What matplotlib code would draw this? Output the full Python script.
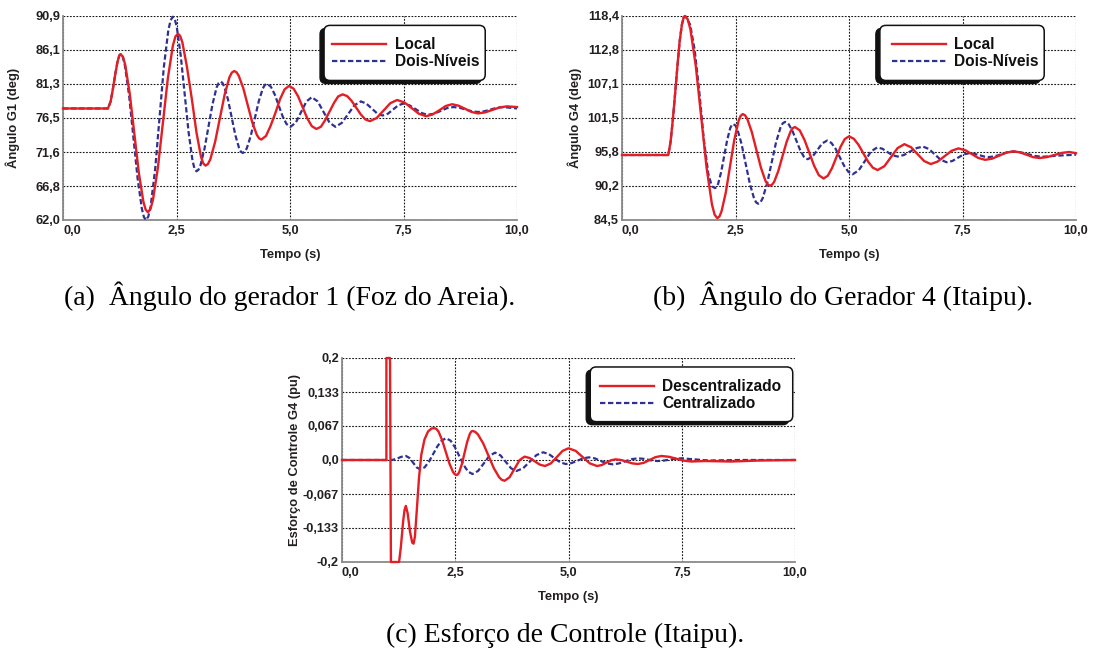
import matplotlib
matplotlib.use("Agg")
import matplotlib.pyplot as plt
from matplotlib.patches import FancyBboxPatch

# ---------------- data ----------------
x_ticks = [0.0, 2.5, 5.0, 7.5, 10.0]
x_tick_labels = ["0,0", "2,5", "5,0", "7,5", "10,0"]

# (a) generator 1 angle
a_yticks = [62.0, 66.8, 71.6, 76.5, 81.3, 86.1, 90.9]
a_ytick_labels = ["62,0", "66,8", "71,6", "76,5", "81,3", "86,1", "90,9"]
a_local_t = [0.0, 0.99, 1.05, 1.1, 1.15, 1.2, 1.24, 1.27, 1.32, 1.37, 1.47, 1.57, 1.67, 1.77, 1.82, 1.87,
             1.925, 1.98, 2.09, 2.20, 2.31, 2.42, 2.475, 2.53, 2.581, 2.63, 2.73, 2.84, 2.94, 3.04, 3.089, 3.14,
             3.1925, 3.245, 3.35, 3.455, 3.56, 3.665, 3.7175, 3.77, 3.82, 3.87, 3.97, 4.07, 4.17, 4.27, 4.32, 4.37,
             4.47, 4.57, 4.68, 4.78, 4.88, 4.98, 5.08, 5.18, 5.28, 5.38, 5.48, 5.58,
             5.68, 5.77, 5.87, 5.97, 6.06, 6.16, 6.26, 6.36, 6.46, 6.56, 6.66, 6.76,
             6.91, 7.06, 7.21, 7.36, 7.52, 7.68, 7.84, 8.0, 8.14, 8.29, 8.43, 8.57,
             8.71, 8.86, 9.0, 9.14, 9.3, 9.46, 9.62, 9.78, 10.0]
a_local_v = [77.8, 77.8, 78.8, 80.6, 82.6, 84.4, 85.3, 85.5, 85.12, 84.0, 79.9, 74.3, 68.7, 64.6, 63.48, 63.1,
             63.53, 64.8, 69.4, 75.75, 82.1, 86.7, 87.97, 88.4, 88.08, 87.15, 83.7, 79.05, 74.4, 70.95, 70.02, 69.7,
             69.93, 70.6, 73.05, 76.4, 79.75, 82.2, 82.87, 83.1, 82.94, 82.45, 80.7, 78.25, 75.8, 74.05, 73.56, 73.4,
             73.9, 75.3, 77.2, 79.1, 80.5, 81.0, 80.6, 79.5, 77.95, 76.4, 75.3, 74.9,
             75.2, 76.1, 77.35, 78.6, 79.5, 79.8, 79.55, 78.85, 77.9, 76.95, 76.25, 76.0,
             76.45, 77.5, 78.55, 79.0, 78.65, 77.85, 77.05, 76.7, 76.95, 77.55, 78.15, 78.4,
             78.2, 77.75, 77.3, 77.1, 77.25, 77.6, 77.95, 78.1, 78.0]
a_dois_t = [0.0, 0.99, 1.05, 1.1, 1.15, 1.2, 1.24, 1.27, 1.317, 1.363, 1.457, 1.55, 1.643, 1.737, 1.783, 1.83,
            1.879, 1.93, 2.03, 2.125, 2.22, 2.32, 2.371, 2.42, 2.463, 2.507, 2.593, 2.68, 2.767, 2.853, 2.897, 2.94,
            2.984, 3.028, 3.117, 3.205, 3.293, 3.382, 3.426, 3.47, 3.511, 3.552, 3.633, 3.715, 3.797, 3.878, 3.919, 3.96,
            4.004, 4.048, 4.137, 4.225, 4.313, 4.402, 4.446, 4.49, 4.577, 4.663, 4.75, 4.837, 4.923, 5.01,
            5.128, 5.245, 5.363, 5.48, 5.61, 5.74, 5.87, 6.0, 6.14, 6.28, 6.42, 6.56,
            6.68, 6.8, 6.92, 7.04, 7.155, 7.27, 7.385, 7.5, 7.63, 7.77, 7.9, 8.03,
            8.17, 8.32, 8.46, 8.6, 8.735, 8.87, 9.005, 9.14, 9.28, 9.42, 9.56, 9.7, 10.0]
a_dois_v = [77.8, 77.8, 78.8, 80.6, 82.6, 84.4, 85.3, 85.5, 85.1, 83.9, 79.6, 73.75, 67.9, 63.6, 62.4, 62.0,
            62.49, 63.9, 69.2, 76.4, 83.6, 88.9, 90.31, 90.8, 90.43, 89.3, 85.3, 79.85, 74.4, 70.4, 69.27, 68.9,
            69.12, 69.75, 72.1, 75.25, 78.4, 80.75, 81.38, 81.6, 81.43, 80.9, 79.1, 76.55, 74.0, 72.2, 71.67, 71.5,
            71.67, 72.15, 73.95, 76.4, 78.85, 80.65, 81.13, 81.3, 80.9, 79.8, 78.25, 76.7, 75.6, 75.2,
            75.8, 77.3, 78.8, 79.4, 78.8, 77.3, 75.8, 75.2, 75.75, 77.0, 78.25, 78.8,
            78.5, 77.8, 77.1, 76.8, 77.05, 77.65, 78.25, 78.5, 78.25, 77.7, 77.15, 76.9,
            77.05, 77.45, 77.85, 78.0, 77.9, 77.65, 77.4, 77.3, 77.4, 77.65, 77.9, 78.0, 77.8]

# (b) generator 4 angle
b_yticks = [84.5, 90.2, 95.8, 101.5, 107.1, 112.8, 118.4]
b_ytick_labels = ["84,5", "90,2", "95,8", "101,5", "107,1", "112,8", "118,4"]
b_local_t = [0.0, 1.02, 1.07, 1.12, 1.17, 1.22, 1.27, 1.32, 1.36, 1.39,
             1.449, 1.508, 1.627, 1.745, 1.863, 1.982, 2.041, 2.10,
             2.147, 2.193, 2.287, 2.38, 2.473, 2.567, 2.613, 2.66,
             2.71, 2.76, 2.86, 2.96, 3.06, 3.16, 3.21, 3.26,
             3.306, 3.352, 3.443, 3.535, 3.627, 3.718, 3.764, 3.81,
             3.915, 4.02, 4.125, 4.23, 4.335, 4.44, 4.533, 4.627, 4.72, 4.813, 4.907, 5.0,
             5.105, 5.21, 5.315, 5.42, 5.525, 5.63, 5.78, 5.925, 6.07, 6.22,
             6.365, 6.51, 6.655, 6.8, 6.95, 7.105, 7.26, 7.41, 7.56, 7.705, 7.85, 8.0,
             8.155, 8.31, 8.465, 8.62, 8.765, 8.91, 9.055, 9.2, 9.36, 9.525, 9.69, 9.85, 10.0]
b_local_v = [95.3, 95.3, 97.5, 101.2, 105.5, 110.0, 114.2, 117.0, 118.2, 118.4,
             117.83, 116.15, 110.0, 101.6, 93.2, 87.05, 85.37, 84.8,
             85.09, 85.95, 89.1, 93.45, 97.8, 100.95, 101.81, 102.1,
             101.9, 101.3, 99.1, 96.15, 93.2, 91.0, 90.4, 90.2,
             90.37, 90.85, 92.65, 95.1, 97.5, 99.3, 99.78, 99.95,
             99.4, 97.8, 95.7, 93.55, 91.95, 91.4, 91.85, 93.15, 94.9, 96.65, 97.95, 98.4,
             98.0, 97.0, 95.6, 94.2, 93.2, 92.8, 93.45, 94.95, 96.45, 97.1,
             96.6, 95.45, 94.3, 93.8, 94.2, 95.1, 96.0, 96.4, 96.1, 95.45, 94.8, 94.5,
             94.7, 95.2, 95.7, 95.9, 95.75, 95.35, 94.95, 94.8, 94.95, 95.3, 95.65, 95.8, 95.6]
b_dois_t = [0.0, 1.02, 1.07, 1.12, 1.17, 1.22, 1.27, 1.32, 1.36, 1.39,
            1.5, 1.6, 1.7, 1.8, 1.9, 1.98, 2.05,
            2.083, 2.117, 2.183, 2.25, 2.317, 2.383, 2.417, 2.45,
            2.496, 2.542, 2.633, 2.725, 2.817, 2.908, 2.954, 3.0,
            3.049, 3.098, 3.197, 3.295, 3.393, 3.492, 3.541, 3.59,
            3.632, 3.673, 3.757, 3.84, 3.923, 4.007, 4.048, 4.09,
            4.198, 4.305, 4.413, 4.52,
            4.613, 4.707, 4.8, 4.893, 4.987, 5.08, 5.215, 5.35, 5.485, 5.62,
            5.733, 5.845, 5.958, 6.07, 6.21, 6.35, 6.49, 6.63, 6.76, 6.89, 7.02, 7.15,
            7.275, 7.4, 7.525, 7.65, 7.758, 7.865, 7.973, 8.08, 8.215, 8.35, 8.485, 8.62,
            8.778, 8.935, 9.093, 9.25, 9.6, 10.0]
b_dois_v = [95.3, 95.3, 97.5, 101.2, 105.5, 110.0, 114.2, 117.0, 118.2, 118.4,
            117.0, 112.8, 106.0, 98.0, 92.2, 90.1, 89.8,
            89.98, 90.5, 92.45, 95.1, 97.8, 99.75, 100.27, 100.45,
            100.22, 99.55, 97.15, 93.8, 90.5, 88.1, 87.43, 87.2,
            87.43, 88.1, 90.6, 94.0, 97.4, 99.9, 100.57, 100.8,
            100.69, 100.4, 99.25, 97.7, 96.15, 95.0, 94.71, 94.6,
            95.05, 96.15, 97.25, 97.7,
            97.3, 96.3, 94.9, 93.5, 92.5, 92.1, 92.75, 94.3, 95.9, 96.55,
            96.35, 95.8, 95.25, 95.05, 95.3, 95.9, 96.45, 96.7, 96.3, 95.4, 94.5, 94.1,
            94.3, 94.85, 95.4, 95.6, 95.5, 95.3, 95.05, 94.95, 95.1, 95.4, 95.75, 95.9,
            95.75, 95.45, 95.15, 95.0, 95.2, 95.35]

# (c) control effort
c_yticks = [-0.2, -0.133, -0.067, 0.0, 0.067, 0.133, 0.2]
c_ytick_labels = ["-0,2", "-0,133", "-0,067", "0,0", "0,067", "0,133", "0,2"]
c_desc_t = [0.0, 0.98, 0.98, 1.06, 1.08, 1.26, 1.30, 1.35, 1.38, 1.41, 1.45, 1.50, 1.55, 1.58,
            1.61, 1.65, 1.70, 1.75, 1.82, 1.90, 1.98, 2.05, 2.09, 2.13, 2.21, 2.29, 2.37, 2.45, 2.49, 2.53,
            2.559, 2.588, 2.647, 2.705, 2.763, 2.822, 2.851, 2.88, 2.939, 2.998, 3.117, 3.235, 3.353, 3.472, 3.531, 3.59,
            3.70, 3.81, 3.92, 4.03, 4.143, 4.255, 4.368, 4.48, 4.61, 4.74, 4.87, 5.0,
            5.158, 5.315, 5.473, 5.63, 5.733, 5.835, 5.938, 6.04, 6.163, 6.285, 6.408, 6.53,
            6.66, 6.79, 6.92, 7.05, 7.218, 7.385, 7.553, 7.72, 8.0, 8.6, 9.2, 10.0]
c_desc_v = [0.0, 0.0, 0.2, 0.2, -0.2, -0.2, -0.17, -0.12, -0.098, -0.09, -0.105, -0.14, -0.162, -0.164,
            -0.150, -0.10, -0.035, 0.01, 0.040, 0.056, 0.062, 0.0623, 0.0604, 0.0559, 0.0391, 0.0162, -0.0066, -0.0234, -0.0279, -0.0295,
            -0.028, -0.0237, -0.0079, 0.0138, 0.0354, 0.0512, 0.0555, 0.057, 0.0553, 0.0505, 0.0326, 0.0081, -0.0163, -0.0342, -0.039, -0.0407,
            -0.0338, -0.017, -0.0003, 0.0066, 0.0039, -0.0026, -0.0091, -0.0118, -0.0067, 0.0056, 0.0179, 0.023,
            0.0179, 0.0056, -0.0067, -0.0118, -0.0099, -0.0053, -0.0006, 0.0013, 0.0, -0.0033, -0.0066, -0.0079,
            -0.0056, 0.0, 0.0056, 0.0079, 0.0063, 0.0025, -0.0014, -0.003, -0.002, -0.003, -0.001, 0.0]
c_cent_t = [0.0, 1.0, 1.1, 1.2, 1.3, 1.41, 1.49, 1.57, 1.65, 1.73,
            1.825, 1.92, 2.015, 2.11, 2.205, 2.30, 2.397, 2.493, 2.59, 2.687, 2.783, 2.88,
            3.005, 3.13, 3.255, 3.38, 3.498, 3.615, 3.733, 3.85, 3.998, 4.145, 4.293, 4.44,
            4.565, 4.69, 4.815, 4.94, 5.068, 5.195, 5.323, 5.45, 5.58, 5.71, 5.84, 5.97,
            6.11, 6.25, 6.39, 6.53, 6.64, 6.75, 6.86, 6.97, 7.1, 7.23, 7.36, 7.49,
            8.1, 8.8, 10.0]
c_cent_v = [0.0, 0.0, 0.0, 0.002, 0.006, 0.0079, 0.004, -0.0053, -0.0146, -0.0184,
            -0.0143, -0.0031, 0.0121, 0.0274, 0.0385, 0.0426, 0.0379, 0.0251, 0.0075, -0.01, -0.0228, -0.0275,
            -0.0214, -0.0066, 0.0083, 0.0144, 0.0091, -0.0036, -0.0163, -0.0216, -0.0162, -0.0033, 0.0097, 0.0151,
            0.0117, 0.0036, -0.0045, -0.0079, -0.006, -0.0014, 0.0033, 0.0052, 0.0032, -0.0017, -0.0065, -0.0085,
            -0.0068, -0.0026, 0.0016, 0.0033, 0.0025, 0.0007, -0.0012, -0.002, -0.0012, 0.0007, 0.0025, 0.0033,
            -0.001, 0.0, 0.0]

labels_ab = ["Local", "Dois-Níveis"]
labels_c = ["Descentralizado", "Centralizado"]
captions = ["(a)  Ângulo do gerador 1 (Foz do Areia).",
            "(b)  Ângulo do Gerador 4 (Itaipu).",
            "(c) Esforço de Controle (Itaipu)."]

# ---------------- styling ----------------
RED = "#e31e24"
BLUE = "#2e3192"
TXT = "#231f20"
W, H = 1099, 651
SANS = "Liberation Sans"

fig = plt.figure(figsize=(W / 100, H / 100), dpi=100)
fig.patch.set_facecolor("white")


def px_axes(x0, y0, x1, y1):
    return fig.add_axes([x0 / W, 1 - y1 / H, (x1 - x0) / W, (y1 - y0) / H])


def style(ax, ylim, yticks, ylabels, ylabel, ylab_x):
    ax.set_xlim(0, 10)
    ax.set_ylim(*ylim)
    ax.set_xticks(x_ticks)
    ax.set_xticklabels(x_tick_labels)
    ax.set_yticks(yticks)
    ax.set_yticklabels(ylabels)
    for lab in ax.get_xticklabels() + ax.get_yticklabels():
        lab.set_fontfamily(SANS)
        lab.set_fontweight("bold")
        lab.set_fontsize(9.2)
        lab.set_color(TXT)
    ax.get_xticklabels()[0].set_ha("left")
    ax.tick_params(axis="both", length=0)
    ax.tick_params(axis="y", pad=2.2)
    ax.tick_params(axis="x", pad=3.5)
    ax.grid(True, color="#1a1a1a", linestyle=(0, (1.6, 1.3)), linewidth=0.8)
    ax.set_axisbelow(True)
    for s in ("top", "right"):
        ax.spines[s].set_visible(False)
    for s in ("left", "bottom"):
        ax.spines[s].set_color("#8a8a8a")
        ax.spines[s].set_linewidth(1.3)
    ax.set_xlabel("Tempo (s)", fontfamily=SANS, fontweight="bold", fontsize=9.3,
                  color=TXT, va="center")
    ax.xaxis.set_label_coords(0.5, -0.172)
    ax.set_ylabel(ylabel, fontfamily=SANS, fontweight="bold", fontsize=9.3,
                  color=TXT, va="center")
    ax.yaxis.set_label_coords(ylab_x, 0.5)


def add_legend(ax, handles, labels, frame, hx, wpx, hpx):
    x0, x1, y0, y1 = frame
    asp = wpx / hpx
    r = 6 / wpx
    shadow = FancyBboxPatch((x0 - 4 / wpx, y0 - 3 / hpx), x1 - x0, y1 - y0,
                            boxstyle=f"round,pad=0,rounding_size={r}", mutation_aspect=asp,
                            transform=ax.transAxes, facecolor="#111111", edgecolor="#111111",
                            linewidth=1.0, zorder=6, clip_on=False)
    box = FancyBboxPatch((x0, y0), x1 - x0, y1 - y0,
                         boxstyle=f"round,pad=0,rounding_size={r}", mutation_aspect=asp,
                         transform=ax.transAxes, facecolor="white", edgecolor="#111111",
                         linewidth=1.1, zorder=7, clip_on=False)
    ax.add_patch(shadow)
    ax.add_patch(box)
    leg = ax.legend(handles, labels, loc="upper left", bbox_to_anchor=(hx, 0.897),
                    frameon=False, prop=dict(family=SANS, weight="bold", size=11.2),
                    handlelength=3.47, handletextpad=0.55, labelspacing=0.15,
                    borderpad=0, borderaxespad=0)
    leg.set_zorder(8)
    for t in leg.get_texts():
        t.set_color("#111111")


def draw(ax, t1, v1, t2, v2):
    lb, = ax.plot(t2, v2, color=BLUE, lw=1.6, linestyle=(0, (2.4, 1.2)), zorder=3, clip_on=False)
    lr, = ax.plot(t1, v1, color=RED, lw=1.7, zorder=4, clip_on=False)
    return lr, lb


# (a)
axA = px_axes(63, 16, 517, 220)
lr, lb = draw(axA, a_local_t, a_local_v, a_dois_t, a_dois_v)
style(axA, (62.0, 90.9), a_yticks, a_ytick_labels, "Ângulo G1 (deg)", -0.110)
add_legend(axA, [lr, lb], labels_ab, (0.575, 0.930, 0.684, 0.954), 0.593, 454, 204)

# (b)
axB = px_axes(622, 16, 1076, 220)
lr, lb = draw(axB, b_local_t, b_local_v, b_dois_t, b_dois_v)
style(axB, (84.5, 118.4), b_yticks, b_ytick_labels, "Ângulo G4 (deg)", -0.104)
add_legend(axB, [lr, lb], labels_ab, (0.568, 0.930, 0.684, 0.954), 0.594, 454, 204)

# (c)
axC = px_axes(342, 358, 795, 562)
lr, lb = draw(axC, c_desc_t, c_desc_v, c_cent_t, c_cent_v)
style(axC, (-0.2, 0.2), c_yticks, c_ytick_labels, "Esforço de Controle G4 (pu)", -0.103)
add_legend(axC, [lr, lb], labels_c, (0.548, 0.995, 0.688, 0.956), 0.569, 453, 204)

# captions
for (cx, cy), cap in zip([(290, 305), (843, 305), (565, 642)], captions):
    fig.text(cx / W, 1 - cy / H, cap, ha="center", va="baseline",
             fontfamily="Liberation Serif", fontsize=20, color="black")

fig.savefig("out.png", dpi=100, facecolor="white")
